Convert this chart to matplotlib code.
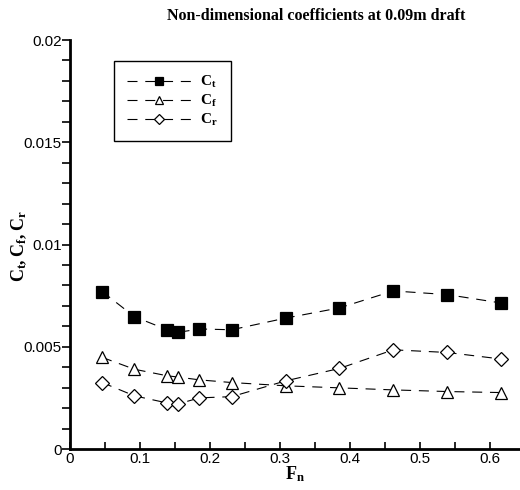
import matplotlib.pyplot as plt
from matplotlib.ticker import MultipleLocator, FuncFormatter

plt.rcParams['font.family'] = ['Liberation Sans', 'DejaVu Sans']
plt.rcParams['mathtext.fontset'] = 'custom'
plt.rcParams['mathtext.rm'] = 'Liberation Serif'
plt.rcParams['mathtext.bf'] = 'Liberation Serif:bold'

# Froude number
fn = [0.046, 0.092, 0.139, 0.154, 0.185, 0.231, 0.308, 0.385, 0.462, 0.539, 0.616]

# coefficients
ct = [0.00770, 0.00647, 0.00583, 0.00570, 0.00587, 0.00583, 0.00640, 0.00690, 0.00773, 0.00755, 0.00714]
cf = [0.00448, 0.00390, 0.00358, 0.00352, 0.00338, 0.00325, 0.00309, 0.00299, 0.00289, 0.00281, 0.00276]
cr = [0.00325, 0.00260, 0.00225, 0.00220, 0.00250, 0.00256, 0.00333, 0.00394, 0.00485, 0.00472, 0.00440]

fig = plt.figure(figsize=(5.2, 4.9), dpi=100)
ax = fig.add_axes([70 / 520, 1 - 449 / 490, 450 / 520, 409 / 490])

line_kw = dict(color='black', linewidth=0.8, dashes=(9, 7), markersize=8,
               markeredgecolor='black', markeredgewidth=0.9)
ax.plot(fn, ct, marker='s', markerfacecolor='black', label=r'$\mathbf{C_t}$', **line_kw)
ax.plot(fn, cf, marker='^', markerfacecolor='white', label=r'$\mathbf{C_f}$', **line_kw)
ax.plot(fn, cr, marker='D', markerfacecolor='white', label=r'$\mathbf{C_r}$',
        **{**line_kw, 'markersize': 7})

ax.set_xlim(0, 0.643)
ax.set_ylim(0, 0.02)
ax.xaxis.set_major_locator(MultipleLocator(0.1))
ax.xaxis.set_minor_locator(MultipleLocator(0.05))
ax.yaxis.set_major_locator(MultipleLocator(0.005))
ax.yaxis.set_minor_locator(MultipleLocator(0.001))
ax.xaxis.set_major_formatter(FuncFormatter(lambda v, p: f'{v:g}'))
ax.yaxis.set_major_formatter(FuncFormatter(lambda v, p: f'{v:g}'))

for side in ['top', 'right']:
    ax.spines[side].set_visible(False)
for side in ['left', 'bottom']:
    ax.spines[side].set_linewidth(2)

ax.tick_params(axis='y', which='both', direction='out', length=6, width=1.2,
               labelsize=11, pad=0)
ax.tick_params(axis='x', which='both', direction='in', length=5, width=1.2,
               labelsize=11, pad=2)

ax.set_xlabel(r'$\mathbf{F_n}$', fontsize=13, labelpad=-1)
fig.text(19 / 520, 1 - 246 / 490, r'$\mathbf{C_t, C_f, C_r}$', rotation=90,
         ha='center', va='center', fontsize=13)

fig.text(316 / 520, 1 - 16 / 490, 'Non-dimensional coefficients at 0.09m draft',
         ha='center', va='center', fontsize=11.5, fontweight='bold',
         family='Liberation Serif')

leg = ax.legend(loc='upper left', bbox_to_anchor=(44 / 450, 1 - 21 / 409),
                borderaxespad=0, handlelength=4.2, handletextpad=0.6,
                fontsize=11, markerscale=0.8, fancybox=False, framealpha=1,
                edgecolor='black', borderpad=0.85, labelspacing=0.2)
leg.get_frame().set_linewidth(1)

plt.savefig('out.png', dpi=100)
plt.close()
